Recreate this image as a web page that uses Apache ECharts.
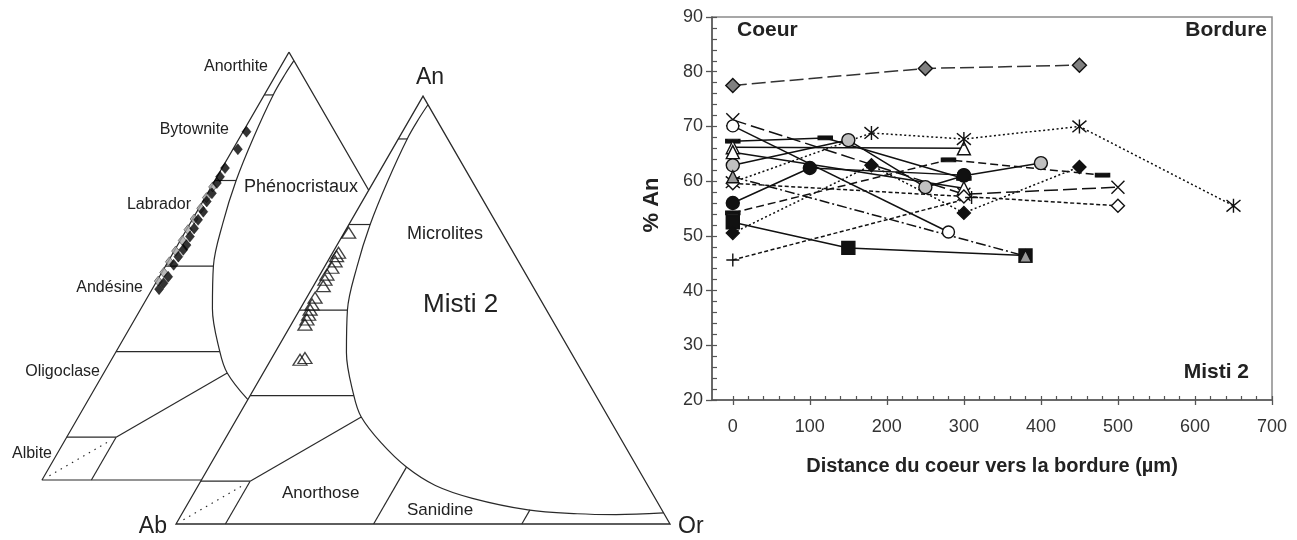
<!DOCTYPE html>
<html><head><meta charset="utf-8">
<script src="https://cdn.jsdelivr.net/npm/echarts@6/dist/echarts.min.js"></script>
<style>html,body{margin:0;padding:0;background:#fff}#c{width:1297px;height:540px}</style>
</head><body><div id="c"></div>
<script>
// ================= LINE CHART DATA (x = distance µm, y = % An) =================
const xTickLabels = [0, 100, 200, 300, 400, 500, 600, 700];
const yTickLabels = [20, 30, 40, 50, 60, 70, 80, 90];
const sGrayDiamond  = [[0, 77.5], [250, 80.6], [450, 81.2]];
const sCross        = [[0, 71.2], [300, 57.6], [500, 58.9]];
const sOpenCircle   = [[0, 70.1], [280, 50.7]];
const sBar1         = [[0, 67.3], [120, 67.9], [300, 60.5]];
const sOpenTri1     = [[0, 66.2], [300, 66.0]];
const sOpenTri2     = [[0, 65.3], [300, 58.7]];
const sGrayCircle   = [[0, 62.9], [150, 67.5], [250, 58.9], [300, 61.0], [400, 63.3]];
const sAsterisk     = [[0, 59.8], [180, 68.8], [300, 67.7], [450, 70.0], [650, 55.5]];
const sGrayTri      = [[0, 60.8], [380, 46.3]];
const sOpenDiamond  = [[0, 59.6], [300, 57.2], [500, 55.5]];
const sBlackCircle  = [[0, 56.0], [100, 62.4], [300, 61.1]];
const sBar2         = [[0, 54.2], [280, 63.9], [480, 61.1]];
const sBlackSquare  = [[0, 52.5], [150, 47.8], [380, 46.4]];
const sBlackDiamond = [[0, 50.5], [180, 62.9], [300, 54.2], [450, 62.6]];
const sPlus         = [[0, 45.6], [310, 57.0]];

// ================= TERNARY DATA (An %, Or %) =================
const phenoAn = [81.4, 77.3, 72.9, 70.9, 69.4, 67.0, 65.1, 62.7, 60.8, 58.8, 56.9, 54.9, 53.8, 52.2, 50.3, 47.5, 46.0, 44.6];
const phenoOr = [0.7, 1.0, 0.6, 0.6, 0.7, 0.9, 0.8, 1.3, 1.2, 1.4, 1.5, 1.8, 1.7, 1.5, 1.5, 1.8, 1.6, 1.4];
const phenoGrayAn = [68.5, 66.0, 63.5, 61.0, 58.5, 56.0, 53.5, 51.0, 48.5, 46.5];
const phenoGrayOr = [0.3, 0.3, 0.4, 0.3, 0.3, 0.4, 0.3, 0.3, 0.4, 0.3];
const microAn = [68.1, 63.4, 62.6, 61.4, 59.9, 58.3, 57.1, 55.6, 52.9, 51.3, 50.1, 48.9, 47.8, 46.6, 38.4, 38.8];
const microOr = [0.9, 1.2, 1.2, 1.5, 1.6, 1.4, 1.6, 2.0, 1.7, 1.9, 2.1, 2.4, 2.6, 2.8, 5.9, 6.7];

// classification boundaries (An %, Or %)
const solvusAn = [98, 95, 90, 80, 70, 60, 50, 40, 30, 25, 19, 13.3, 9, 6, 3.3, 2.4, 2.2, 2.6];
const solvusOr = [2.0, 1.8, 1.8, 2.8, 4.3, 6.6, 9.7, 14.5, 21, 25, 32, 40, 48, 57, 69.6, 80, 88, 97.4];
const plagBounds = [[[90, 0], [90, 1.8]], [[70, 0], [70, 4.3]], [[50, 0], [50, 9.7]], [[30, 0], [30, 21]], [[10, 0], [10, 10]],
                    [[10, 10], [25, 25]], [[10, 10], [0, 10]], [[0, 40], [13.3, 40]], [[0, 70], [3.3, 70]]];
const dottedBound = [[1, 1], [9, 9]];
const outline = [[100, 0], [0, 0], [0, 100], [100, 0]];

// ================= HELPERS =================
const H = Math.sqrt(3) / 2;
const offMicro = [0, 0];
const offPheno = [-27.13, 8.91];
function tern(an, or, off) { return [or + an / 2 + off[0], an * H + off[1]]; }
const LC = '#2a2a2a';
function tLine(pts, off, z, type, smooth) {
  return { type: 'line', xAxisIndex: 0, yAxisIndex: 0, z: z, silent: true, symbol: 'none', smooth: smooth || false,
    data: pts.map(p => tern(p[0], p[1], off)), lineStyle: { color: LC, width: 1.2, type: type || 'solid' } };
}
function triangleSeries(off, zBase, filled) {
  const out = [];
  if (filled) {
    out.push({ type: 'custom', xAxisIndex: 0, yAxisIndex: 0, z: zBase, silent: true, data: [[0, 0]],
      renderItem: function (params, api) {
        return { type: 'polygon', shape: { points: outline.slice(0, 3).map(p => api.coord(tern(p[0], p[1], off))) },
          style: { fill: '#fff', stroke: LC, lineWidth: 1.3 } };
      } });
  } else {
    out.push(tLine(outline, off, zBase));
  }
  out.push(tLine(solvusAn.map((a, i) => [a, solvusOr[i]]), off, zBase + 1, 'solid', 0.35));
  plagBounds.forEach(b => out.push(tLine(b, off, zBase + 1)));
  out.push(tLine(dottedBound, off, zBase + 1, [1.5, 5]));
  return out;
}

// line chart series helper
const ASTER = 'path://M1,1L11,11M11,1L1,11M6,0L6,12';
const CROSS = 'path://M0,0L10,10M10,0L0,10';
const PLUS = 'path://M5,0L5,10M0,5L10,5';
function ls(data, symbol, size, fill, dash, lineColor, border) {
  return { type: 'line', xAxisIndex: 1, yAxisIndex: 1, data: data, symbol: symbol, symbolSize: size, showAllSymbol: true,
    z: 10, silent: true,
    itemStyle: { color: fill, borderColor: border || '#111', borderWidth: 1.4, opacity: 1 },
    lineStyle: { color: lineColor || '#111', width: 1.5, type: dash } };
}
const LONG = [14, 5], MED = [8, 4], DOT = [2, 2.5], DASHDOT = [10, 3, 2, 3], SHORT = [4, 2.5];

const lineSeries = [
  ls(sGrayDiamond, 'diamond', 14, '#808080', LONG, '#333'),
  ls(sCross, CROSS, 13, 'transparent', LONG),
  ls(sOpenCircle, 'circle', 12, '#fff', 'solid'),
  ls(sBar1, 'rect', [13, 4], '#111', 'solid'),
  ls(sOpenTri1, 'triangle', 13, '#fff', 'solid'),
  ls(sOpenTri2, 'triangle', 13, '#fff', 'solid'),
  ls(sGrayCircle, 'circle', 13, '#c0c0c0', 'solid'),
  ls(sAsterisk, ASTER, 14, 'transparent', DOT),
  ls(sOpenDiamond, 'diamond', 13, '#fff', SHORT),
  ls(sBlackCircle, 'circle', 13, '#111', 'solid'),
  ls(sBar2, 'rect', [13, 4], '#111', MED),
  ls(sBlackSquare, 'rect', 13, '#111', 'solid'),
  ls(sGrayTri, 'triangle', 12, '#9a9a9a', DASHDOT),
  ls(sBlackDiamond, 'diamond', 13, '#111', DOT),
  ls(sPlus, PLUS, 13, 'transparent', SHORT)
];

const ternSeries = [].concat(
  triangleSeries(offPheno, 1, false),
  triangleSeries(offMicro, 4, true),
  [
    { type: 'scatter', xAxisIndex: 0, yAxisIndex: 0, z: 8, silent: true, symbol: 'diamond', symbolSize: [8, 10],
      data: phenoGrayAn.map((a, i) => tern(a, phenoGrayOr[i], offPheno)),
      itemStyle: { color: '#a8a8a8', borderColor: '#444', borderWidth: 0.8 } },
    { type: 'scatter', xAxisIndex: 0, yAxisIndex: 0, z: 8, silent: true, symbol: 'diamond', symbolSize: [9, 11],
      data: phenoAn.map((a, i) => tern(a, phenoOr[i], offPheno)),
      itemStyle: { color: '#000', borderColor: '#000', borderWidth: 0.5 } },
    { type: 'scatter', xAxisIndex: 0, yAxisIndex: 0, z: 8, silent: true, symbol: 'triangle', symbolSize: [14, 11],
      data: microAn.map((a, i) => tern(a, microOr[i], offMicro)),
      itemStyle: { color: 'rgba(255,255,255,0)', borderColor: '#111', borderWidth: 1.3 } }
  ]
);

const FONT = '"Liberation Sans", Arial, sans-serif';
function txt(s, x, y, size, align, bold, rot) {
  return { type: 'text', x: x, y: y, rotation: rot || 0, z: 100,
    style: { text: s, fontSize: size, fontFamily: FONT, fontWeight: bold ? 'bold' : 'normal', fill: '#222',
      textAlign: align || 'left', textVerticalAlign: 'middle' } };
}

const minorX = [];
for (let v = 0; v <= 700; v += 20) minorX.push(v);

const chart = echarts.init(document.getElementById('c'), null, { renderer: 'canvas' });
chart.setOption({
  animation: false,
  backgroundColor: '#fff',
  grid: [
    { left: 0, top: 0, width: 700, height: 540, show: false },
    { left: 712, top: 17, width: 560, height: 383, show: true, borderColor: '#8a8a8a', borderWidth: 1.5, backgroundColor: 'transparent' }
  ],
  xAxis: [
    { gridIndex: 0, type: 'value', min: -35.63, max: 106.07, show: false },
    { gridIndex: 1, type: 'value', min: -27, max: 700, position: 'bottom',
      axisLine: { show: true, onZero: false, lineStyle: { color: '#555', width: 1.5 } },
      axisTick: { show: true, inside: false, length: 5, customValues: xTickLabels, lineStyle: { color: '#555', width: 1.3 } },
      axisLabel: { show: true, customValues: xTickLabels, margin: 18, fontSize: 18, color: '#333', fontFamily: FONT },
      splitLine: { show: false } },
    { gridIndex: 1, type: 'value', min: -27, max: 700, position: 'bottom',
      axisLine: { show: false, onZero: false },
      axisTick: { show: true, inside: true, length: 4, customValues: minorX, lineStyle: { color: '#555', width: 1.2 } },
      axisLabel: { show: false }, splitLine: { show: false } }
  ],
  yAxis: [
    { gridIndex: 0, type: 'value', min: -3.24, max: 106.07, show: false },
    { gridIndex: 1, type: 'value', min: 20, max: 90, interval: 10, position: 'left',
      axisLine: { show: true, onZero: false, lineStyle: { color: '#555', width: 1.5 } },
      axisTick: { show: true, inside: false, length: 6, lineStyle: { color: '#555', width: 1.3 } },
      axisLabel: { show: true, margin: 9, fontSize: 18, color: '#333', fontFamily: FONT },
      splitLine: { show: false } },
    { gridIndex: 1, type: 'value', min: 20, max: 90, interval: 2, position: 'left', offset: 0,
      axisLine: { show: false, onZero: false },
      axisTick: { show: true, inside: true, length: 5, lineStyle: { color: '#555', width: 1.2 } },
      axisLabel: { show: false }, splitLine: { show: false } }
  ],
  series: ternSeries.concat(lineSeries),
  graphic: [
    txt('Anorthite', 268, 67, 16, 'right'),
    txt('Bytownite', 229, 130, 16, 'right'),
    txt('Labrador', 191, 205, 16, 'right'),
    txt('Andésine', 143, 288, 16, 'right'),
    txt('Oligoclase', 100, 372, 16, 'right'),
    txt('Albite', 52, 454, 16, 'right'),
    txt('Phénocristaux', 244, 187, 18, 'left'),
    txt('An', 416, 78, 23, 'left'),
    txt('Microlites', 407, 234, 18, 'left'),
    txt('Misti 2', 423, 305, 26, 'left'),
    txt('Anorthose', 282, 493, 17, 'left'),
    txt('Sanidine', 407, 510, 17, 'left'),
    txt('Ab', 167, 527, 23, 'right'),
    txt('Or', 678, 527, 23, 'left'),
    txt('Coeur', 737, 30, 21, 'left', true),
    txt('Bordure', 1267, 30, 21, 'right', true),
    txt('Misti 2', 1249, 372, 21, 'right', true),
    txt('Distance du coeur vers la bordure (µm)', 992, 466, 20, 'center', true),
    { type: 'text', x: 652, y: 205, rotation: Math.PI / 2, z: 100,
      style: { text: '% An', fontSize: 22, fontFamily: FONT, fontWeight: 'bold', fill: '#222', textAlign: 'center', textVerticalAlign: 'middle' } }
  ]
});
</script>
</body></html>
